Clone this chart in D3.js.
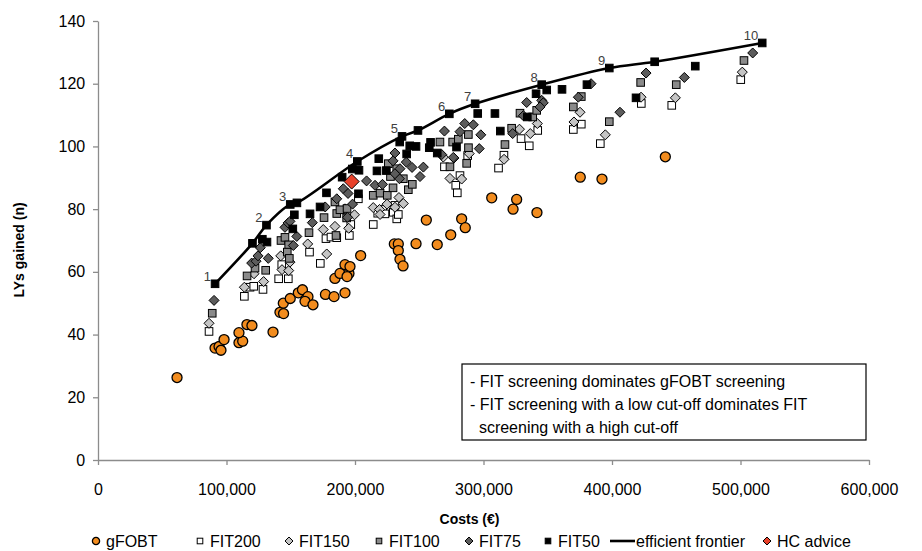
<!DOCTYPE html>
<html>
<head>
<meta charset="utf-8">
<script src="https://cdn.jsdelivr.net/npm/d3@7"></script>
<style>
  body { margin: 0; background: #fff; }
  svg text { font-family: Arial, "Liberation Sans", sans-serif; }
</style>
</head>
<body>
<div id="chart"></div>
<script>
// costs in thousands of euros, LYs gained (n)
const gfobtCost = [61.5, 91.1, 94.2, 95.7, 98.1, 109.7, 112.6, 109.7, 115.9, 119.8, 136.2, 141.6, 144.4, 144.2, 149.6, 155.9, 159.1, 163.4, 161.1, 167.3, 177.0, 183.7, 192.2, 184.4, 188.3, 192.2, 195.3, 196.1, 193.8, 204.4, 230.6, 233.7, 233.7, 235.0, 237.4, 247.5, 255.5, 264.0, 274.5, 283.0, 285.8, 306.4, 325.8, 323.0, 341.6, 375.3, 392.2, 441.5];
const gfobtLY   = [26.3, 35.7, 36.2, 35.0, 38.4, 37.4, 37.9, 40.6, 43.2, 42.9, 40.8, 47.1, 46.7, 50.0, 51.5, 53.3, 54.3, 52.1, 50.6, 49.5, 52.8, 52.1, 53.3, 57.9, 59.5, 62.3, 59.5, 61.7, 58.5, 65.2, 68.9, 68.9, 66.8, 64.0, 61.9, 69.0, 76.5, 68.7, 71.8, 76.9, 74.1, 83.6, 83.1, 80.0, 78.9, 90.2, 89.6, 96.7];

const fit200Cost = [86.4, 113.9, 118.3, 121.2, 128.4, 140.6, 143.0, 148.1, 164.6, 173.0, 177.4, 181.3, 185.8, 195.6, 196.7, 202.6, 214.2, 217.7, 221.6, 223.3, 229.8, 231.1, 232.5, 233.7, 269.6, 278.4, 279.6, 281.7, 287.7, 311.7, 315.9, 329.2, 335.6, 342.2, 369.9, 376.1, 390.9, 422.8, 446.5, 500.2];
const fit200LY   = [41.0, 52.2, 55.1, 55.4, 54.4, 57.8, 62.3, 57.8, 66.3, 62.7, 70.6, 71.1, 70.9, 71.6, 75.1, 83.3, 75.1, 78.7, 79.9, 78.5, 79.0, 81.2, 76.9, 78.3, 93.5, 87.6, 85.2, 90.7, 97.1, 93.1, 97.2, 102.5, 100.2, 105.1, 105.4, 107.1, 100.9, 113.7, 113.1, 121.3];

const fit150Cost = [86.4, 113.9, 121.4, 128.9, 142.2, 143.2, 148.4, 149.4, 163.2, 175.3, 178.0, 184.4, 195.1, 199.6, 192.2, 214.2, 219.1, 219.5, 224.9, 231.1, 234.2, 237.6, 268.7, 277.0, 273.9, 283.0, 288.9, 316.0, 328.0, 336.4, 341.9, 370.4, 375.1, 394.8, 422.6, 449.3, 501.4];
const fit150LY   = [43.6, 55.1, 59.4, 56.9, 65.1, 60.7, 60.4, 63.1, 68.9, 73.5, 65.7, 74.5, 73.9, 78.2, 80.1, 80.5, 79.9, 78.3, 81.6, 80.6, 83.7, 81.8, 96.6, 96.3, 89.8, 89.6, 97.7, 95.9, 105.5, 104.1, 107.3, 107.8, 110.9, 103.7, 115.7, 115.5, 123.7];

const fit100Cost = [88.9, 116.0, 122.2, 130.5, 142.4, 145.5, 148.4, 147.3, 148.9, 164.2, 175.9, 184.4, 185.8, 188.3, 193.8, 185.2, 193.5, 214.2, 219.5, 225.1, 229.6, 227.6, 232.5, 237.6, 241.5, 244.6, 225.9, 266.1, 276.0, 280.4, 288.2, 288.3, 286.9, 273.9, 316.7, 321.9, 328.4, 338.3, 341.4, 369.9, 376.1, 397.9, 422.3, 450.0, 502.7];
const fit100LY   = [46.8, 58.7, 61.2, 60.5, 70.0, 71.0, 68.6, 66.3, 64.3, 72.5, 77.3, 82.3, 78.6, 79.8, 80.2, 71.6, 77.2, 84.4, 85.1, 84.4, 86.8, 90.4, 92.9, 89.7, 86.2, 87.9, 94.5, 101.4, 101.4, 102.3, 103.8, 99.6, 94.6, 93.5, 100.6, 105.8, 110.6, 109.4, 111.5, 112.6, 115.9, 107.9, 120.4, 119.7, 127.4];

const fit75Cost = [90.3, 119.6, 123.0, 124.5, 126.3, 132.5, 145.5, 147.9, 149.4, 152.0, 154.7, 166.8, 176.8, 185.8, 190.9, 194.6, 198.1, 194.2, 209.0, 215.6, 221.4, 231.1, 229.6, 234.6, 231.1, 235.0, 239.9, 244.4, 253.2, 250.6, 267.5, 269.6, 276.5, 281.7, 285.4, 292.1, 297.9, 296.7, 322.7, 331.0, 333.6, 345.3, 346.5, 344.0, 373.8, 383.7, 406.2, 426.5, 456.3, 509.5];
const fit75LY   = [50.9, 62.8, 63.4, 65.1, 67.7, 64.3, 74.2, 75.6, 76.1, 68.4, 71.3, 75.7, 80.7, 83.3, 86.5, 85.0, 81.6, 77.4, 89.0, 87.6, 87.9, 97.9, 95.4, 89.7, 91.3, 92.9, 95.0, 93.3, 93.4, 90.4, 97.4, 104.9, 96.5, 104.7, 107.3, 106.9, 103.7, 99.3, 104.1, 109.8, 114.0, 114.7, 113.9, 112.6, 115.7, 120.0, 110.9, 123.4, 122.0, 129.8];

const fit50Cost = [127.9, 131.5, 152.8, 151.6, 165.0, 172.8, 177.8, 190.0, 197.9, 203.1, 202.7, 218.5, 217.1, 224.4, 234.8, 240.2, 242.6, 247.5, 258.8, 257.8, 264.0, 279.0, 295.5, 308.9, 313.1, 334.1, 340.9, 349.2, 361.1, 380.5, 418.7, 464.8];
const fit50LY   = [70.4, 69.5, 78.2, 73.7, 78.5, 80.7, 85.2, 90.2, 92.8, 92.4, 84.9, 96.1, 92.2, 92.3, 101.4, 97.6, 100.2, 100.0, 101.3, 99.6, 97.9, 99.8, 110.5, 110.5, 104.9, 109.4, 116.8, 118.0, 118.2, 119.7, 115.5, 125.6];

// efficient frontier (FIT50 strategies on the frontier)
const frontierCost = [91.1, 120.2, 131.1, 149.6, 154.8, 201.8, 236.6, 249.0, 273.4, 293.5, 345.3, 397.9, 433.2, 516.9];
const frontierLY   = [56.2, 69.1, 74.9, 81.5, 82.0, 95.2, 103.2, 105.1, 110.4, 113.6, 119.7, 125.0, 127.0, 133.0];
const frontierLabels = ['1', '', '2', '3', '', '4', '5', '', '6', '7', '8', '9', '', '10'];

const hcCost = [197.4];
const hcLY   = [88.8];

const xTicks = [0, 100000, 200000, 300000, 400000, 500000, 600000];
const yTicks = [0, 20, 40, 60, 80, 100, 120, 140];

const boxLines = ['- FIT screening dominates gFOBT screening',
                  '- FIT screening with a low cut-off dominates FIT',
                  '  screening with a high cut-off'];

const zip = (cs, ys) => cs.map((c, i) => ({cost: c * 1000, ly: ys[i]}));

const series = [
    {name: 'gFOBT',  shape: 'circle',  fill: '#f28c1e', data: zip(gfobtCost, gfobtLY)},
    {name: 'FIT200', shape: 'square',  fill: '#ffffff', data: zip(fit200Cost, fit200LY)},
    {name: 'FIT150', shape: 'diamond', fill: '#c4c4c4', data: zip(fit150Cost, fit150LY)},
    {name: 'FIT100', shape: 'square',  fill: '#8a8a8a', data: zip(fit100Cost, fit100LY)},
    {name: 'FIT75',  shape: 'diamond', fill: '#5c5c5c', data: zip(fit75Cost, fit75LY)},
    {name: 'FIT50',  shape: 'square',  fill: '#000000', data: zip(fit50Cost, fit50LY)}
];

const frontier = zip(frontierCost, frontierLY);
const hc = zip(hcCost, hcLY);

// layout
const margin = {top: 21, right: 53, bottom: 91, left: 98};
const W = 922, H = 551;
const width = W - margin.left - margin.right;
const height = H - margin.top - margin.bottom;

const svg = d3.select('#chart').append('svg')
    .attr('width', W)
    .attr('height', H);

const g = svg.append('g')
    .attr('transform', 'translate(' + margin.left + ',' + margin.top + ')');

const xScale = d3.scaleLinear().domain([0, 600000]).range([0, width]);
const yScale = d3.scaleLinear().domain([0, 140]).range([height, 0]);

const axisColor = '#8c8c8c';

const xAxis = d3.axisBottom(xScale).tickValues(xTicks).tickFormat(d3.format(',')).tickSize(5).tickSizeOuter(0);
const yAxis = d3.axisLeft(yScale).tickValues(yTicks).tickSize(5).tickSizeOuter(0);

const xg = g.append('g')
    .attr('class', 'axis x-axis')
    .attr('transform', 'translate(0,' + height + ')')
    .call(xAxis);
xg.selectAll('text').attr('dy', '1.7em');

const yg = g.append('g')
    .attr('class', 'axis y-axis')
    .call(yAxis);
yg.selectAll('text').attr('dx', '-0.3em');

g.selectAll('.axis path, .axis line').attr('stroke', axisColor).attr('stroke-width', 1.3);
g.selectAll('.axis text').attr('fill', '#000').style('font-size', '16px');

// axis titles
svg.append('text')
    .attr('x', margin.left + xScale(300000) - 14)
    .attr('y', 524)
    .attr('text-anchor', 'middle')
    .style('font-size', '14px')
    .style('font-weight', 'bold')
    .text('Costs (€)');

svg.append('text')
    .attr('transform', 'translate(24,' + (margin.top + yScale(67)) + ') rotate(-90)')
    .attr('text-anchor', 'middle')
    .style('font-size', '14px')
    .style('font-weight', 'bold')
    .text('LYs gained (n)');

// marker drawing
function drawMarker(sel, shape, fill, size) {
    if (shape === 'circle') {
        sel.append('circle').attr('r', size)
            .attr('fill', fill).attr('stroke', '#000').attr('stroke-width', 1.3);
    } else if (shape === 'square') {
        sel.append('rect')
            .attr('x', -size).attr('y', -size)
            .attr('width', size * 2).attr('height', size * 2)
            .attr('fill', fill).attr('stroke', '#000').attr('stroke-width', 1);
    } else {
        sel.append('path')
            .attr('d', 'M0,' + (-size) + 'L' + size + ',0L0,' + size + 'L' + (-size) + ',0Z')
            .attr('fill', fill).attr('stroke', '#000').attr('stroke-width', 1);
    }
}

const sizes = {circle: 5, square: 3.8, diamond: 5};

series.forEach(s => {
    const pts = g.append('g').attr('class', 'series')
        .selectAll('g')
        .data(s.data)
        .join('g')
        .attr('transform', d => 'translate(' + xScale(d.cost) + ',' + yScale(d.ly) + ')');
    drawMarker(pts, s.shape, s.fill, sizes[s.shape]);
});

// efficient frontier
const line = d3.line()
    .x(d => xScale(d.cost))
    .y(d => yScale(d.ly))
    .curve(d3.curveCatmullRom.alpha(0.5));

g.append('path')
    .datum(frontier)
    .attr('d', line)
    .attr('fill', 'none')
    .attr('stroke', '#000')
    .attr('stroke-width', 2.6);

const fpts = g.append('g').selectAll('g')
    .data(frontier)
    .join('g')
    .attr('transform', d => 'translate(' + xScale(d.cost) + ',' + yScale(d.ly) + ')');
drawMarker(fpts, 'square', '#000', 3.8);

g.append('g').selectAll('text')
    .data(frontier)
    .join('text')
    .attr('x', d => xScale(d.cost) - 4)
    .attr('y', d => yScale(d.ly) - 3)
    .attr('text-anchor', 'end')
    .attr('fill', '#404040')
    .style('font-size', '13px')
    .text((d, i) => frontierLabels[i]);

// HC advice
const hpts = g.append('g').selectAll('g')
    .data(hc)
    .join('g')
    .attr('transform', d => 'translate(' + xScale(d.cost) + ',' + yScale(d.ly) + ')');
drawMarker(hpts, 'diamond', '#e8412a', 7.5);

// annotation box
const box = svg.append('g');
box.append('rect')
    .attr('x', 462).attr('y', 364)
    .attr('width', 404).attr('height', 76)
    .attr('fill', '#fff')
    .attr('stroke', '#000')
    .attr('stroke-width', 1.2);
box.selectAll('text')
    .data(boxLines)
    .join('text')
    .attr('x', 470)
    .attr('y', (d, i) => 387 + i * 23)
    .style('font-size', '16px')
    .style('white-space', 'pre')
    .attr('xml:space', 'preserve')
    .text(d => d);

// legend
const legendItems = [
    {name: 'gFOBT',  shape: 'circle',  fill: '#f28c1e', x: 96},
    {name: 'FIT200', shape: 'square',  fill: '#ffffff', x: 200},
    {name: 'FIT150', shape: 'diamond', fill: '#c4c4c4', x: 289},
    {name: 'FIT100', shape: 'square',  fill: '#8a8a8a', x: 379},
    {name: 'FIT75',  shape: 'diamond', fill: '#5c5c5c', x: 469},
    {name: 'FIT50',  shape: 'square',  fill: '#000000', x: 548},
    {name: 'efficient frontier', shape: 'line', x: 622},
    {name: 'HC advice', shape: 'diamond', fill: '#e8412a', x: 767}
];

const legend = svg.append('g').attr('transform', 'translate(0,541)');
legendItems.forEach(it => {
    const li = legend.append('g').attr('transform', 'translate(' + it.x + ',0)');
    if (it.shape === 'line') {
        li.append('line').attr('x1', -12).attr('x2', 13).attr('stroke', '#000').attr('stroke-width', 2.6);
        li.append('text').attr('x', 14).attr('y', 6).style('font-size', '16px').text(it.name);
    } else {
        const s = it.shape === 'circle' ? 3.6 : (it.shape === 'square' ? 2.8 : 4);
        drawMarker(li, it.shape, it.fill, s);
        li.append('text').attr('x', 10).attr('y', 6).style('font-size', '16px').text(it.name);
    }
});
</script>
</body>
</html>
